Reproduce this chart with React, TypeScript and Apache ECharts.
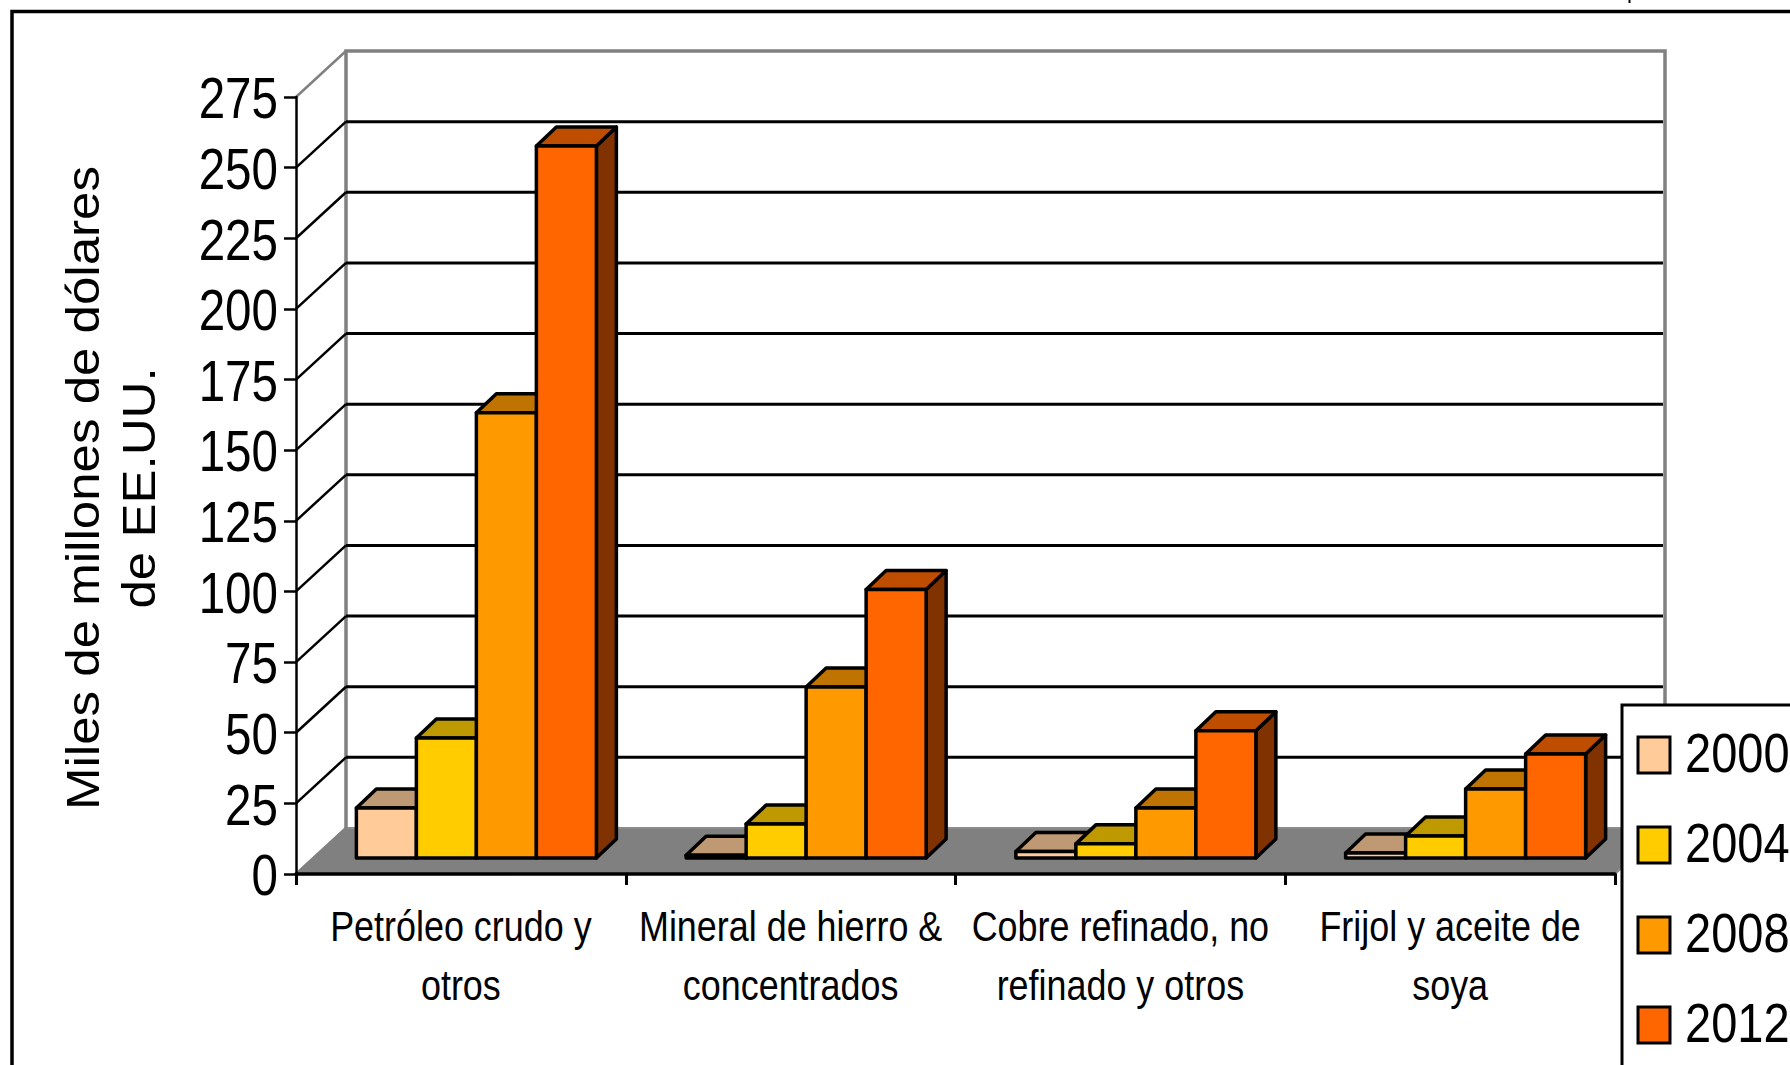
import React, { useEffect, useRef } from "react";
import * as echarts from "echarts";

const categories = [
  "Petróleo crudo y\notros",
  "Mineral de hierro &\nconcentrados",
  "Cobre refinado, no\nrefinado y otros",
  "Frijol y aceite de\nsoya",
];
const values2000 = [17.7, 1, 2.3, 1.8];
const values2004 = [42.5, 12, 5, 7.8];
const values2008 = [157.6, 60.5, 17.7, 24.4];
const values2012 = [252, 95, 45, 36.8];
const ticks = [0, 25, 50, 75, 100, 125, 150, 175, 200, 225, 250, 275];
const yTitle = "Miles de millones de dólares\nde EE.UU.";

const yearNames = ["2000", "2004", "2008", "2012"];
const yearValues = [values2000, values2004, values2008, values2012];
const frontColors = ["#FFCC99", "#FFCC00", "#FF9900", "#FF6600"];
const topColors = ["#BF9973", "#BF9900", "#BF7300", "#BF4D00"];
const sideColors = ["#806650", "#806600", "#804D00", "#803300"];

const WIDE = "'Liberation Sans', Arial, sans-serif";

// 3D look: offset of the back wall, of the bars inside the floor, and of a bar's depth.
const WALL_DX = 50;
const WALL_DY = 46;
const BAR_SHIFT_X = 15.5;
const BAR_SHIFT_Y = 16;
const BAR_W = 60;
const BAR_DX = 20;
const BAR_DY = 19;

function wallRender(params: any, api: any) {
  const cs = params.coordSys;
  const v = api.value(1);
  const p = api.coord([0, v]);
  const y = p[1];
  const left = cs.x;
  const right = cs.x + cs.width;
  const children: any[] = [];
  const gray = "#808080";
  const isTop = v === ticks[ticks.length - 1];
  const isZero = v === 0;
  if (isZero) {
    children.push({
      type: "polygon",
      shape: {
        points: [
          [left, y],
          [left + WALL_DX, y - WALL_DY],
          [right + WALL_DX, y - WALL_DY],
          [right, y],
        ],
      },
      style: { fill: gray, stroke: "#8c8c8c", lineWidth: 2 },
    });
    children.push({
      type: "polyline",
      shape: {
        points: [
          [left + WALL_DX, y - WALL_DY],
          [left + WALL_DX, cs.y - WALL_DY],
          [right + WALL_DX, cs.y - WALL_DY],
          [right + WALL_DX, y - WALL_DY],
        ],
      },
      style: { fill: "none", stroke: gray, lineWidth: 3.5 },
    });
  }
  if (!isZero && !isTop) {
    children.push({
      type: "line",
      shape: { x1: left + WALL_DX, y1: y - WALL_DY, x2: right + WALL_DX - 2, y2: y - WALL_DY },
      style: { stroke: "#000", lineWidth: 3 },
    });
  }
  children.push({
    type: "line",
    shape: { x1: left, y1: y, x2: left + WALL_DX, y2: y - WALL_DY },
    style: { stroke: isTop || isZero ? gray : "#000", lineWidth: 2.5 },
  });
  children.push({
    type: "text",
    x: left - 18,
    y: y + 1,
    scaleX: 0.82,
    style: {
      text: String(v),
      fontFamily: WIDE,
      fontSize: 58,
      fill: "#000",
      textAlign: "right",
      textVerticalAlign: "middle",
    },
  });
  return { type: "group", children };
}

function categoryLabelRender(_params: any, api: any) {
  const cat = api.value(0);
  const p = api.coord([cat, 0]);
  return {
    type: "text",
    x: p[0],
    y: p[1] + 23,
    scaleX: 0.855,
    style: {
      text: categories[cat],
      fontFamily: WIDE,
      fontSize: 42,
      lineHeight: 59,
      fill: "#000",
      textAlign: "center",
      textVerticalAlign: "top",
    },
  };
}

function barRenderer(seriesIdx: number) {
  return (_params: any, api: any) => {
    const cat = api.value(0);
    const val = api.value(1);
    const center = api.coord([cat, 0]);
    const top = api.coord([cat, val]);
    const x0 = center[0] + BAR_SHIFT_X + (seriesIdx - 2) * BAR_W;
    const x1 = x0 + BAR_W;
    const yB = center[1] - BAR_SHIFT_Y;
    const yT = top[1] - BAR_SHIFT_Y;
    const line = { stroke: "#000", lineWidth: 3.5, lineJoin: "round" };
    return {
      type: "group",
      children: [
        {
          type: "polygon",
          shape: {
            points: [
              [x1, yT],
              [x1 + BAR_DX, yT - BAR_DY],
              [x1 + BAR_DX, yB - BAR_DY],
              [x1, yB],
            ],
          },
          style: { fill: sideColors[seriesIdx], ...line },
        },
        {
          type: "polygon",
          shape: {
            points: [
              [x0, yT],
              [x0 + BAR_DX, yT - BAR_DY],
              [x1 + BAR_DX, yT - BAR_DY],
              [x1, yT],
            ],
          },
          style: { fill: topColors[seriesIdx], ...line },
        },
        {
          type: "rect",
          shape: { x: x0, y: yT, width: BAR_W, height: yB - yT },
          style: { fill: frontColors[seriesIdx], ...line },
        },
      ],
    };
  };
}

const LEGEND_LEFT = 1622;
const LEGEND_TOP = 705;
const LEGEND_STEP = 90;

export default function App() {
  const ref = useRef<HTMLDivElement>(null);
  useEffect(() => {
    const chart = echarts.init(ref.current!, undefined, { renderer: "svg" });
    chart.setOption({
      animation: false,
      backgroundColor: "#fff",
      grid: { left: 296, top: 97, width: 1319, height: 777, outerBoundsMode: "none" },
      xAxis: {
        type: "category",
        data: categories,
        axisLine: { lineStyle: { color: "#000", width: 3.5 } },
        axisTick: { show: true, length: 11, lineStyle: { color: "#000", width: 3 } },
        axisLabel: { show: false },
        z: 10,
      },
      yAxis: {
        type: "value",
        min: 0,
        max: 275,
        interval: 25,
        splitLine: { show: false },
        axisLine: { show: true, lineStyle: { color: "#000", width: 2.5 } },
        axisTick: { show: true, length: 12, lineStyle: { color: "#000", width: 2.5 } },
        axisLabel: { show: false },
        z: 10,
      },
      graphic: [
        {
          type: "polyline",
          shape: { points: [[12, 1065], [12, 11.5], [1790, 11.5]] },
          style: { fill: "none", stroke: "#000", lineWidth: 3.5 },
        },
        {
          type: "line",
          shape: { x1: 1629.5, y1: 0, x2: 1629.5, y2: 3 },
          style: { stroke: "#000", lineWidth: 2 },
        },
        {
          type: "text",
          x: 111,
          y: 488,
          rotation: Math.PI / 2,
          scaleX: 1.11,
          style: {
            text: yTitle,
            fontFamily: WIDE,
            fontSize: 46,
            lineHeight: 56,
            fill: "#000",
            textAlign: "center",
            textVerticalAlign: "middle",
          },
        },
        {
          type: "rect",
          z: 50,
          shape: { x: LEGEND_LEFT, y: LEGEND_TOP, width: 200, height: 362 },
          style: { fill: "#fff", stroke: "#000", lineWidth: 3 },
        },
        ...yearNames.flatMap((name, i) => [
          {
            type: "rect",
            z: 51,
            shape: { x: 1638, y: 737 + i * LEGEND_STEP, width: 32, height: 36 },
            style: { fill: frontColors[i], stroke: "#000", lineWidth: 3 },
          },
          {
            type: "text",
            z: 51,
            x: 1685,
            y: 753 + i * LEGEND_STEP,
            scaleX: 0.84,
            style: {
              text: name,
              fontFamily: WIDE,
              fontSize: 56,
              fill: "#000",
              textAlign: "left",
              textVerticalAlign: "middle",
            },
          },
        ]),
      ],
      series: [
        {
          type: "custom",
          name: "wall",
          data: ticks.map((t) => [0, t]),
          encode: { x: 0, y: 1 },
          renderItem: wallRender,
          clip: false,
          silent: true,
          z: 1,
        },
        {
          type: "custom",
          name: "labels",
          data: categories.map((_, c) => [c, 0]),
          encode: { x: 0, y: 1 },
          renderItem: categoryLabelRender,
          clip: false,
          silent: true,
          z: 1,
        },
        ...yearNames.map((name, i) => ({
          type: "custom",
          name,
          data: yearValues[i].map((v, c) => [c, v]),
          encode: { x: 0, y: 1 },
          renderItem: barRenderer(i),
          itemStyle: { color: frontColors[i] },
          clip: false,
          z: 2 + i,
        })),
      ],
    });
    return () => chart.dispose();
  }, []);
  return <div ref={ref} style={{ position: "absolute", left: 0, top: 0, width: 1790, height: 1065 }} />;
}
